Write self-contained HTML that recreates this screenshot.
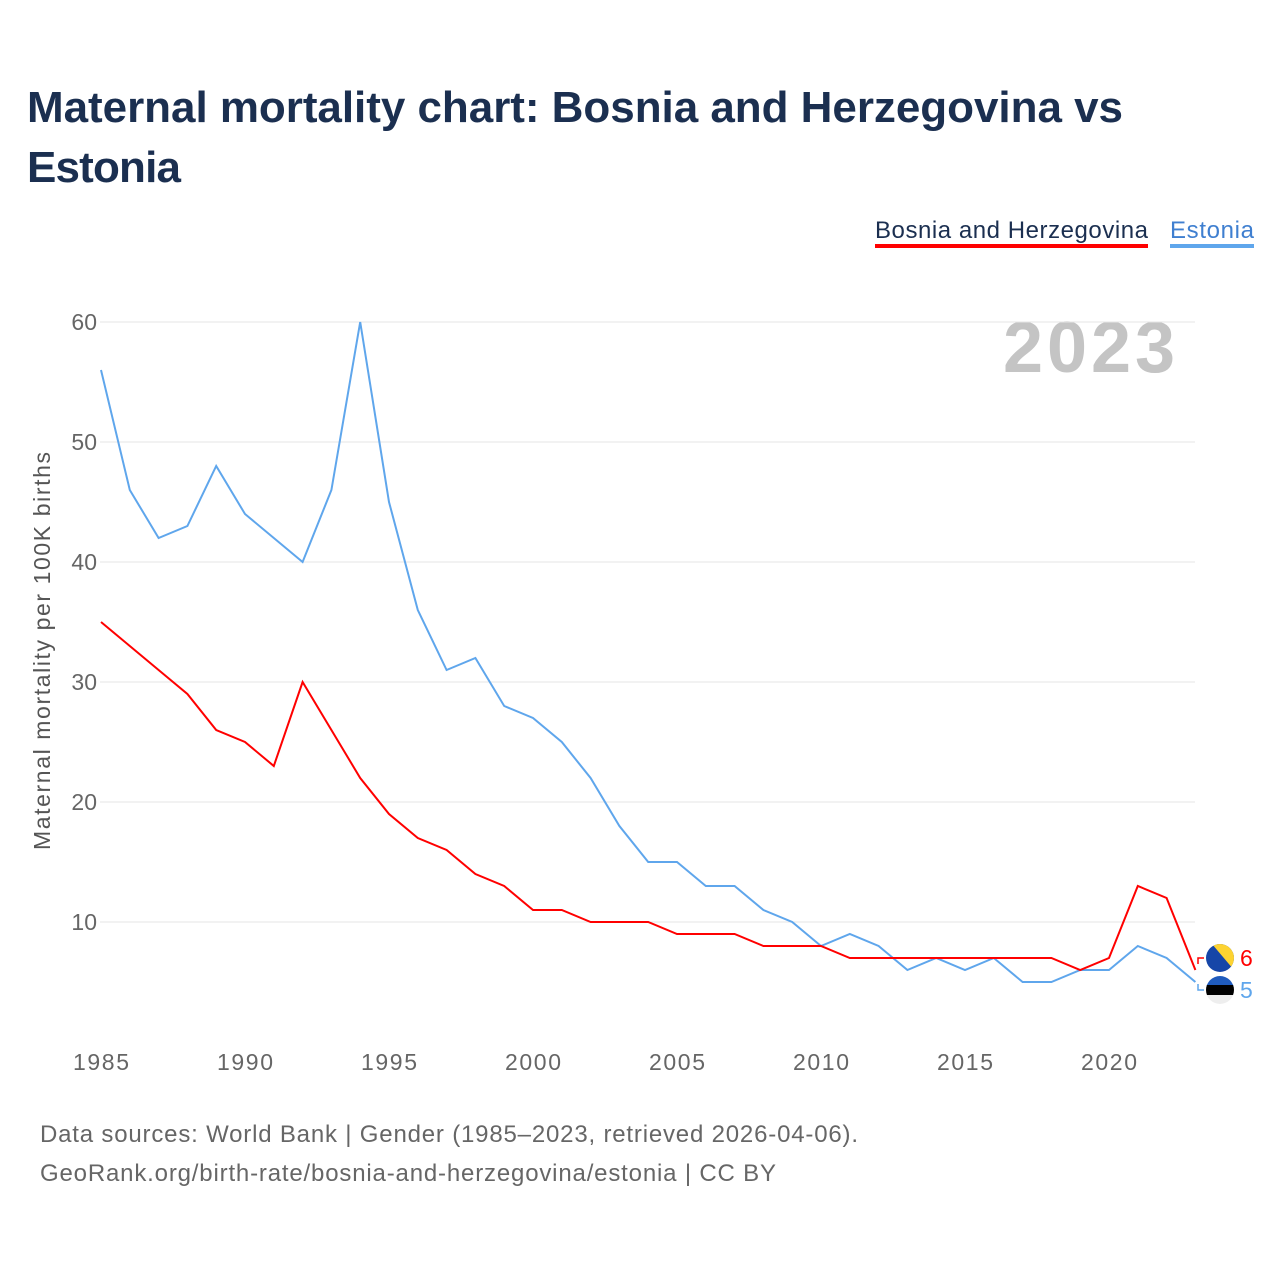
<!DOCTYPE html>
<html><head><meta charset="utf-8"><style>
body{margin:0;background:#fff;font-family:"Liberation Sans",sans-serif}
</style></head><body>
<svg width="1280" height="1280" xmlns="http://www.w3.org/2000/svg" style="font-family:'Liberation Sans',sans-serif">
<text x="27" y="122" font-size="44" font-weight="bold" fill="#1b2f50" textLength="1096">Maternal mortality chart: Bosnia and Herzegovina vs</text>
<text x="27" y="182" font-size="44" font-weight="bold" fill="#1b2f50" textLength="154">Estonia</text>
<g>
<text x="875" y="238" font-size="24" fill="#1b2f50" textLength="273">Bosnia and Herzegovina</text>
<rect x="875" y="244" width="273" height="4" fill="#f00"/>
<text x="1170" y="238" font-size="24" fill="#3f7fd0" textLength="84">Estonia</text>
<rect x="1170" y="244" width="84" height="4" fill="#5fa6ec"/>
</g>
<text x="1175" y="372" font-size="72" font-weight="bold" fill="#c4c4c4" text-anchor="end" textLength="172">2023</text>
<g id="grid"></g>
<g id="xt"></g>
<text transform="translate(50,651) rotate(-90)" font-size="23" fill="#555" text-anchor="middle" textLength="398">Maternal mortality per 100K births</text>
<g id="lines"></g>
<g>
<path d="M1198 964 V958 H1204" stroke="#f00" fill="none" stroke-width="1.5"/>
<path d="M1198 984 V990 H1204" stroke="#5fa6ec" fill="none" stroke-width="1.5"/>
<clipPath id="c1"><circle cx="1220" cy="958" r="14"/></clipPath>
<g clip-path="url(#c1)"><rect x="1206" y="944" width="28" height="28" fill="#1646a8"/><polygon points="1212,944 1234,944 1234,970" fill="#fdd331"/></g>
<clipPath id="c2"><circle cx="1220" cy="990" r="14"/></clipPath>
<g clip-path="url(#c2)"><rect x="1206" y="976" width="28" height="10" fill="#1f5bbd"/><rect x="1206" y="985" width="28" height="10" fill="#000"/><rect x="1206" y="995" width="28" height="10" fill="#eee"/></g>
<text x="1240" y="966" font-size="23" fill="#f00">6</text>
<text x="1240" y="998" font-size="23" fill="#5fa6ec">5</text>
</g>
<text x="40" y="1142" font-size="24" fill="#666" textLength="818">Data sources: World Bank | Gender (1985–2023, retrieved 2026-04-06).</text>
<text x="40" y="1181" font-size="24" fill="#666" textLength="736">GeoRank.org/birth-rate/bosnia-and-herzegovina/estonia | CC BY</text>
</svg>
<script>
const years=[];for(let y=1985;y<=2023;y++)years.push(y);
const estonia=[56,46,42,43,48,44,42,40,46,60,45,36,31,32,28,27,25,22,18,15,15,13,13,11,10,8,9,8,6,7,6,7,5,5,6,6,8,7,5];
const bosnia=[35,33,31,29,26,25,23,30,26,22,19,17,16,14,13,11,11,10,10,10,9,9,9,8,8,8,7,7,7,7,7,7,7,7,6,7,13,12,6];
const yTicks=[10,20,30,40,50,60];
const xTicks=[1985,1990,1995,2000,2005,2010,2015,2020];
const NS="http://www.w3.org/2000/svg";
const x=v=>101+(v-1985)*28.8;
const y=v=>1042-v*12;
const grid=document.getElementById('grid');
yTicks.forEach(t=>{
 const l=document.createElementNS(NS,'line');
 l.setAttribute('x1',100);l.setAttribute('x2',1195);l.setAttribute('y1',y(t));l.setAttribute('y2',y(t));
 l.setAttribute('stroke','#e6e6e6');
 
 
 grid.appendChild(l);
 const tx=document.createElementNS(NS,'text');
 tx.setAttribute('x',97);tx.setAttribute('y',y(t)+8);tx.setAttribute('text-anchor','end');
 tx.setAttribute('font-size','23');tx.setAttribute('fill','#666');tx.textContent=t;
 
 
 grid.appendChild(tx);
});
const xt=document.getElementById('xt');
xTicks.forEach(t=>{
 const tx=document.createElementNS(NS,'text');
 tx.setAttribute('x',x(t));tx.setAttribute('y',1070);tx.setAttribute('text-anchor','middle');
 tx.setAttribute('font-size','23');tx.setAttribute('fill','#666');tx.setAttribute('textLength','56');tx.textContent=t;
 
 
 xt.appendChild(tx);
});
const lines=document.getElementById('lines');
function draw(data,color,name){
 const p=document.createElementNS(NS,'polyline');
 p.setAttribute('points',data.map((v,i)=>x(years[i])+','+y(v)).join(' '));
 p.setAttribute('fill','none');p.setAttribute('stroke',color);p.setAttribute('stroke-width','2');
 
 
 lines.appendChild(p);
}
draw(estonia,'#5fa6ec','estonia-line');
draw(bosnia,'#f00','bosnia-line');
</script>
</body></html>
